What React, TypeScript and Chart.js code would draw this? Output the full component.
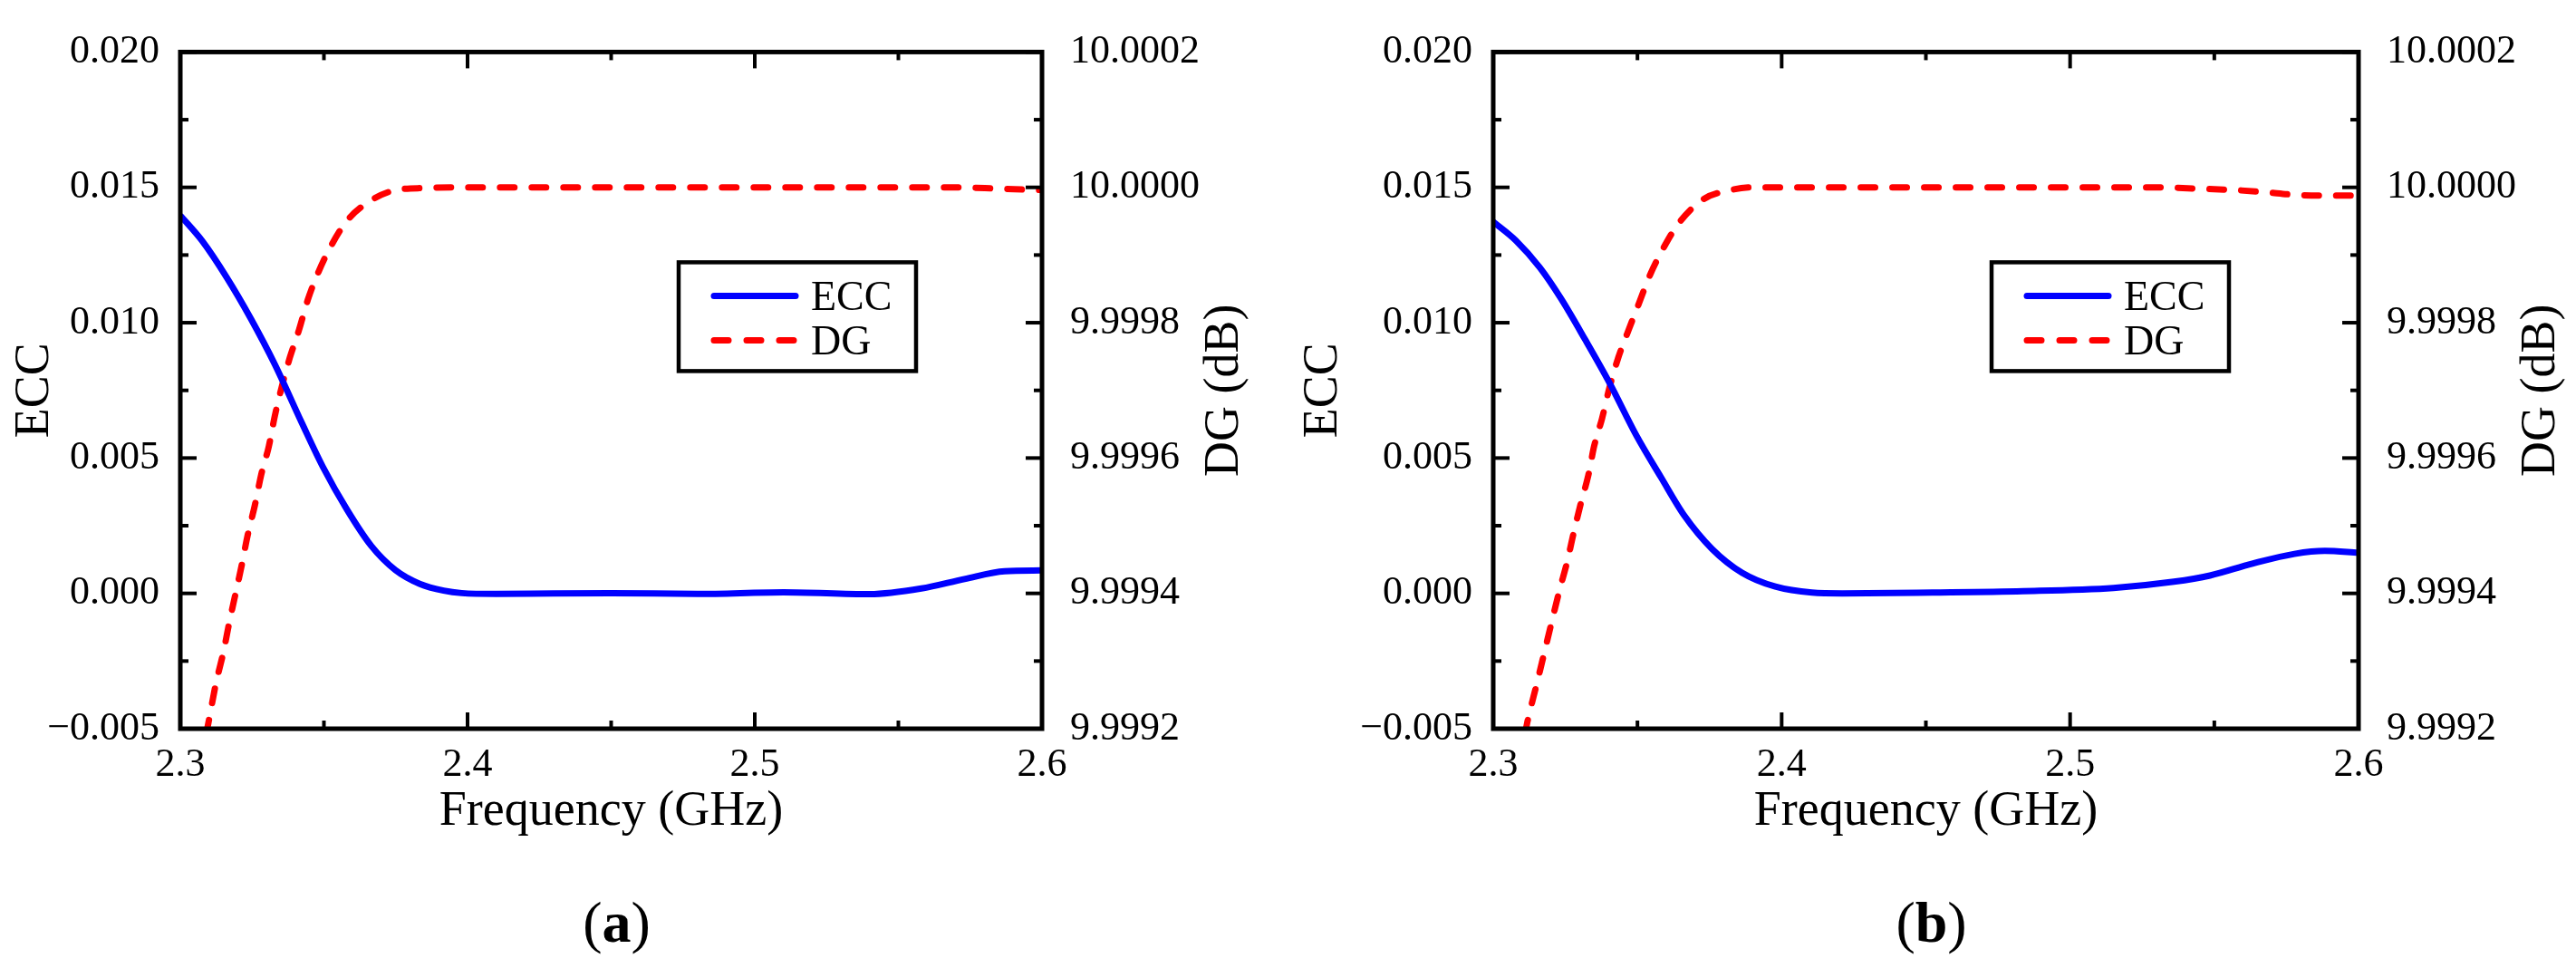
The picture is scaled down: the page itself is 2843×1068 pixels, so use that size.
import { useEffect, useRef } from "react";
import { Chart, registerables } from "chart.js";

Chart.register(...registerables);

const FONT = '"Liberation Serif", "Times New Roman", serif';

// Axis ticks
const freqTicks = [2.3, 2.4, 2.5, 2.6];
const freqMinor = [2.35, 2.45, 2.55];
const eccTicks = [-0.005, 0, 0.005, 0.01, 0.015, 0.02];
const eccMinor = [-0.0025, 0.0025, 0.0075, 0.0125, 0.0175];
const dgTicks = [9.9992, 9.9994, 9.9996, 9.9998, 10.0, 10.0002];
const dgMinor = [9.9993, 9.9995, 9.9997, 9.9999, 10.0001];

// Panel (a)
const eccFreqA = [
  2.3, 2.3077, 2.3161, 2.3245, 2.3329, 2.3423, 2.3497, 2.3581, 2.3665, 2.3749,
  2.3834, 2.3917, 2.398, 2.41, 2.43, 2.45, 2.48, 2.51, 2.54, 2.558, 2.573,
  2.587, 2.6,
];
const eccA = [
  0.01396, 0.01301, 0.01168, 0.01016, 0.00846, 0.0063, 0.00466, 0.00308,
  0.00175, 0.00086, 0.00035, 0.0001, 0.00001, -0.00002, 0.0, 0.00001, -0.00002,
  0.00004, -0.00003, 0.00018, 0.00053, 0.00082, 0.00085,
];
const dgFreqA = [
  2.309, 2.3098, 2.3124, 2.315, 2.3171, 2.3192, 2.3213, 2.3234, 2.326, 2.3282,
  2.3308, 2.3329, 2.3355, 2.3381, 2.3413, 2.3444, 2.3481, 2.3528, 2.3581,
  2.3665, 2.375, 2.385, 2.4, 2.57, 2.585, 2.6,
];
const dgA = [
  9.999192, 9.999209, 9.999267, 9.999313, 9.999358, 9.999399, 9.99944,
  9.999485, 9.999531, 9.999576, 9.999617, 9.999662, 9.999708, 9.999748,
  9.999789, 9.999834, 9.999875, 9.999916, 9.999951, 9.999981, 9.999996,
  9.999999, 10.0, 10.0, 9.999998, 9.999996,
];

// Panel (b)
const eccFreqB = [
  2.3, 2.3078, 2.3162, 2.3235, 2.3319, 2.3403, 2.3497, 2.3581, 2.3664, 2.3758,
  2.3863, 2.3978, 2.4105, 2.421, 2.4523, 2.4837, 2.515, 2.536, 2.5485, 2.5632,
  2.5778, 2.5883, 2.6,
];
const eccB = [
  0.01373, 0.01304, 0.01203, 0.01089, 0.00937, 0.00778, 0.00582, 0.0043,
  0.00285, 0.00165, 0.00076, 0.00025, 0.00003, 0.0, 0.00003, 0.00008, 0.0002,
  0.00043, 0.00066, 0.0011, 0.00146, 0.00157, 0.0015,
];
const dgFreqB = [
  2.311, 2.312, 2.3152, 2.3178, 2.3204, 2.323, 2.3256, 2.3277, 2.3303, 2.333,
  2.335, 2.3377, 2.3403, 2.3434, 2.347, 2.3502, 2.3544, 2.3591, 2.3643, 2.3727,
  2.3812, 2.39, 2.53, 2.545, 2.557, 2.5674, 2.5778, 2.59, 2.6,
];
const dgB = [
  9.999192, 9.999213, 9.999268, 9.999314, 9.99936, 9.999405, 9.999446,
  9.999486, 9.999532, 9.999575, 9.999618, 9.999658, 9.999704, 9.999749,
  9.99979, 9.999825, 9.999871, 9.999911, 9.999947, 9.999982, 9.999995, 10.0,
  10.0, 9.999998, 9.999996, 9.999993, 9.999989, 9.999988, 9.999988,
];

const CANVAS_W = 1421;
const CANVAS_H = 940;
const PLOT_TOP = 35;
const PLOT_BOTTOM = 804;

const fmtEcc = (v: number) =>
  Math.abs(v) < 1e-9 ? "0.000" : v < 0 ? "\u2212" + Math.abs(v).toFixed(3) : v.toFixed(3);

// inward ticks on all four sides, the frame, the right title and the legend
const framePlugin = {
  id: "frame",
  afterDraw(chart: any) {
    const { ctx, chartArea, scales } = chart;
    const { left, right, top, bottom } = chartArea;
    const line = (x1: number, y1: number, x2: number, y2: number) => {
      ctx.beginPath();
      ctx.moveTo(x1, y1);
      ctx.lineTo(x2, y2);
      ctx.stroke();
    };
    ctx.save();
    ctx.strokeStyle = "#000";
    ctx.lineWidth = 4;
    ctx.lineCap = "butt";

    const MAJ = 18;
    const MIN = 9;
    freqTicks.forEach((v) => {
      const px = scales.x.getPixelForValue(v);
      line(px, bottom, px, bottom - MAJ);
      line(px, top, px, top + MAJ);
    });
    freqMinor.forEach((v) => {
      const px = scales.x.getPixelForValue(v);
      line(px, bottom, px, bottom - MIN);
      line(px, top, px, top + MIN);
    });
    eccTicks.forEach((v) => {
      const py = scales.y.getPixelForValue(v);
      line(left, py, left + MAJ, py);
    });
    eccMinor.forEach((v) => {
      const py = scales.y.getPixelForValue(v);
      line(left, py, left + MIN, py);
    });
    dgTicks.forEach((v) => {
      const py = scales.y2.getPixelForValue(v);
      line(right, py, right - MAJ, py);
    });
    dgMinor.forEach((v) => {
      const py = scales.y2.getPixelForValue(v);
      line(right, py, right - MIN, py);
    });

    ctx.lineWidth = 5;
    ctx.strokeRect(left, top, right - left, bottom - top);

    // right axis title, reading bottom to top
    ctx.save();
    ctx.translate(right + 202, (top + bottom) / 2);
    ctx.rotate(-Math.PI / 2);
    ctx.fillStyle = "#000";
    ctx.font = `54px ${FONT}`;
    ctx.textAlign = "center";
    ctx.textBaseline = "middle";
    ctx.fillText("DG (dB)", 0, 0);
    ctx.restore();

    // legend box
    const bx = left + 550;
    const by = top + 232;
    const bw = 262;
    const bh = 120;
    ctx.fillStyle = "#fff";
    ctx.fillRect(bx, by, bw, bh);
    ctx.lineWidth = 4.5;
    ctx.strokeRect(bx, by, bw, bh);
    ctx.lineWidth = 7;
    ctx.lineCap = "round";
    ctx.strokeStyle = "#0000ff";
    line(bx + 39, by + 37, bx + 129, by + 37);
    ctx.strokeStyle = "#ff0000";
    ctx.setLineDash([16, 20]);
    line(bx + 39, by + 86, bx + 129, by + 86);
    ctx.setLineDash([]);
    ctx.fillStyle = "#000";
    ctx.font = `46px ${FONT}`;
    ctx.textAlign = "left";
    ctx.textBaseline = "alphabetic";
    ctx.fillText("ECC", bx + 146, by + 37 + 16);
    ctx.fillText("DG", bx + 146, by + 86 + 16);
    ctx.restore();
  },
};

interface PanelProps {
  label: string;
  offsetX: number;
  plotLeft: number;
  plotRight: number;
  eccFreq: number[];
  ecc: number[];
  dgFreq: number[];
  dg: number[];
}

function Panel({ label, offsetX, plotLeft, plotRight, eccFreq, ecc, dgFreq, dg }: PanelProps) {
  const canvasRef = useRef<HTMLCanvasElement | null>(null);

  useEffect(() => {
    if (!canvasRef.current) return;
    const tickFont = { family: FONT, size: 44 };
    const titleFont = { family: FONT, size: 54 };

    const chart = new Chart(canvasRef.current, {
      type: "line",
      data: {
        datasets: [
          {
            label: "ECC",
            data: eccFreq.map((f, i) => ({ x: f, y: ecc[i] })),
            yAxisID: "y",
            borderColor: "#0000ff",
            borderWidth: 7,
            pointRadius: 0,
            cubicInterpolationMode: "monotone",
          },
          {
            label: "DG",
            data: dgFreq.map((f, i) => ({ x: f, y: dg[i] })),
            yAxisID: "y2",
            borderColor: "#ff0000",
            borderWidth: 7,
            borderDash: [16, 19],
            borderCapStyle: "round",
            pointRadius: 0,
            cubicInterpolationMode: "monotone",
          },
        ],
      },
      options: {
        responsive: false,
        animation: false,
        devicePixelRatio: 1,
        layout: { padding: { top: PLOT_TOP, left: 0, right: 0, bottom: 0 } },
        plugins: {
          legend: { display: false },
          tooltip: { enabled: false },
        },
        scales: {
          x: {
            type: "linear",
            min: 2.3,
            max: 2.6,
            afterBuildTicks: (s: any) => {
              s.ticks = freqTicks.map((v) => ({ value: v }));
            },
            afterFit: (s: any) => {
              s.height = CANVAS_H - PLOT_BOTTOM;
            },
            grid: { display: false, drawTicks: false },
            border: { display: false },
            ticks: {
              color: "#000",
              font: tickFont,
              padding: 14,
              maxRotation: 0,
              autoSkip: false,
              callback: (v: any) => Number(v).toFixed(1),
            },
            title: {
              display: true,
              text: "Frequency (GHz)",
              color: "#000",
              font: titleFont,
              padding: { top: 0, bottom: 12 },
            },
          },
          y: {
            type: "linear",
            position: "left",
            min: -0.005,
            max: 0.02,
            afterBuildTicks: (s: any) => {
              s.ticks = eccTicks.map((v) => ({ value: v }));
            },
            afterFit: (s: any) => {
              s.width = plotLeft;
            },
            grid: { display: false, drawTicks: false },
            border: { display: false },
            ticks: {
              color: "#000",
              font: tickFont,
              padding: 23,
              autoSkip: false,
              callback: (v: any) => fmtEcc(Number(v)),
            },
            title: {
              display: true,
              text: "ECC",
              color: "#000",
              font: titleFont,
              padding: { top: 6, bottom: 0 },
            },
          },
          y2: {
            type: "linear",
            position: "right",
            min: 9.9992,
            max: 10.0002,
            afterBuildTicks: (s: any) => {
              s.ticks = dgTicks.map((v) => ({ value: v }));
            },
            afterFit: (s: any) => {
              s.width = CANVAS_W - plotRight;
            },
            grid: { display: false, drawTicks: false },
            border: { display: false },
            ticks: {
              color: "#000",
              font: tickFont,
              padding: 31,
              autoSkip: false,
              callback: (v: any) => Number(v).toFixed(4),
            },
          },
        },
      },
      plugins: [framePlugin],
    } as any);

    return () => {
      chart.destroy();
    };
  }, []);

  const center = (plotLeft + plotRight) / 2 + 6;

  return (
    <div style={{ position: "absolute", left: offsetX, top: 0, width: CANVAS_W, height: 1068 }}>
      <canvas
        ref={canvasRef}
        width={CANVAS_W}
        height={CANVAS_H}
        style={{ position: "absolute", left: 0, top: 0, width: CANVAS_W, height: CANVAS_H }}
      />
      <div
        style={{
          position: "absolute",
          left: center - 200,
          width: 400,
          top: 980,
          lineHeight: "76px",
          fontSize: 64,
          fontFamily: FONT,
          textAlign: "center",
          color: "#000",
        }}
      >
        (<b>{label}</b>)
      </div>
    </div>
  );
}

export default function App() {
  useEffect(() => {
    document.body.style.margin = "0";
  }, []);

  return (
    <div
      style={{
        position: "absolute",
        left: 0,
        top: 0,
        width: 2843,
        height: 1068,
        background: "#fff",
        overflow: "hidden",
      }}
    >
      <Panel
        label="a"
        offsetX={0}
        plotLeft={199}
        plotRight={1150}
        eccFreq={eccFreqA}
        ecc={eccA}
        dgFreq={dgFreqA}
        dg={dgA}
      />
      <Panel
        label="b"
        offsetX={1422}
        plotLeft={226}
        plotRight={1181}
        eccFreq={eccFreqB}
        ecc={eccB}
        dgFreq={dgFreqB}
        dg={dgB}
      />
    </div>
  );
}
